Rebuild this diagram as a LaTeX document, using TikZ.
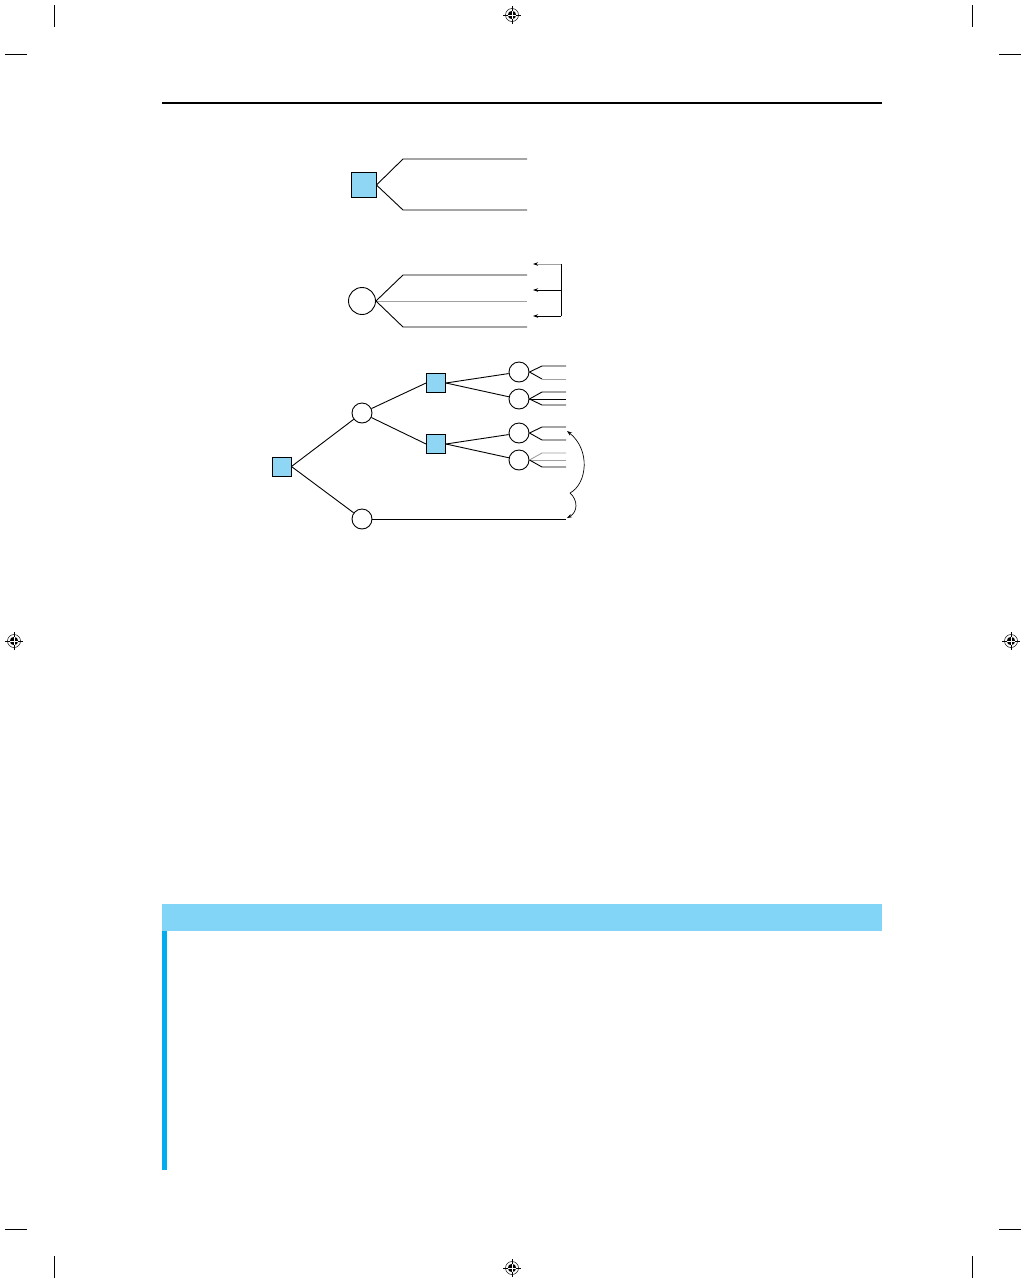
\documentclass[tikz,border=0pt]{standalone}
\usetikzlibrary{arrows.meta}
\definecolor{sqblue}{RGB}{143,214,245}
\definecolor{bandblue}{RGB}{130,213,246}
\definecolor{barblue}{RGB}{0,174,239}
\definecolor{lgray}{RGB}{160,160,160}
\tikzset{
  dsq/.style={draw, line width=0.9pt, fill=sqblue, rectangle, inner sep=0pt, minimum size=#1},
  dsq/.default=19pt,
  chc/.style={draw, line width=0.9pt, circle, inner sep=0pt, minimum size=#1},
  chc/.default=20pt,
  br/.style={line width=0.9pt},
  brg/.style={line width=0.9pt, draw=lgray},
  tip/.style={-{Stealth[length=5pt,width=3.5pt,color=black]}},
  crop/.style={line width=0.9pt},
  regmark/.pic={
    \draw[line width=0.5pt] (0,0) circle (6.5);
    \draw[line width=0.5pt] (-9,0) -- (9,0) (0,-9) -- (0,9);
    \fill (0,0) circle (4.2);
    \draw[white, line width=0.7pt] (-4.2,0) -- (4.2,0) (0,-4.2) -- (0,4.2);
  }
}
\begin{document}
\begin{tikzpicture}[x=1pt,y=-1pt]
\fill[white] (0,0) rectangle (1026,1283);
\useasboundingbox (0,0) rectangle (1026,1283);

% crop marks
\draw[crop] (54,5) -- (54,27);   \draw[crop] (5,54) -- (27,54);
\draw[crop] (972,5) -- (972,27); \draw[crop] (999,54) -- (1021,54);
\draw[crop] (54,1256) -- (54,1278);   \draw[crop] (5,1229) -- (27,1229);
\draw[crop] (972,1256) -- (972,1278); \draw[crop] (999,1229) -- (1021,1229);

% registration marks
\pic at (512,15) {regmark};
\pic at (14,641) {regmark};
\pic at (1011,641) {regmark};
\pic at (512,1268) {regmark};

% header rule
\draw[line width=1.2pt] (162,103) -- (882,103);

% band and bar
\fill[bandblue] (162,904) rectangle (882,931);
\fill[barblue] (162,931) rectangle (167,1170);

% ---- diagram 1: decision node
\node[dsq=25pt] (s1) at (363.5,185) {};
\coordinate (s1a) at (403,159); \coordinate (s1ae) at (527,159);
\coordinate (s1b) at (403,210); \coordinate (s1be) at (527,210);
\draw[br] (s1.east) -- (s1a) -- (s1ae);
\draw[br] (s1.east) -- (s1b) -- (s1be);

% ---- diagram 2: chance node
\node[chc=27pt] (c2) at (362,301) {};
\coordinate (c2a) at (403,275); \coordinate (c2ae) at (527,275);
\coordinate (c2me) at (527,301);
\coordinate (c2b) at (403,327); \coordinate (c2be) at (527,327);
\draw[br] (c2.east) -- (c2a) -- (c2ae);
\draw[brg] (c2.east) -- (c2me);
\draw[br] (c2.east) -- (c2b) -- (c2be);
\coordinate (k1) at (561,264); \coordinate (k2) at (561,290); \coordinate (k3) at (561,316);
\coordinate (t1) at (533,264); \coordinate (t2) at (533,290); \coordinate (t3) at (533,316);
\draw[br] (k1) -- (k3);
\draw[brg, tip] (k1) -- (t1);
\draw[br, tip] (k2) -- (t2);
\draw[br, tip] (k3) -- (t3);

% ---- diagram 3: tree
\node[dsq] (R) at (281.5,466.5) {};
\node[chc] (A) at (362,413) {};
\node[chc] (B) at (362,519) {};
\node[dsq] (C) at (436,383) {};
\node[dsq] (D) at (436,444) {};
\node[chc] (E) at (519,372) {};
\node[chc] (F) at (519,399) {};
\node[chc] (G) at (519,433) {};
\node[chc] (H) at (519,460) {};

\draw[br] (R.east) -- (A);
\draw[br] (R.east) -- (B);
\draw[br] (A) -- (C.west);
\draw[br] (A) -- (D.west);
\draw[br] (C.east) -- (E);
\draw[br] (C.east) -- (F);
\draw[br] (D.east) -- (G);
\draw[br] (D.east) -- (H);
\coordinate (Be) at (566,519);
\draw[br] (B.east) -- (Be);

% outcome branches
\coordinate (E1) at (542,366); \coordinate (E1e) at (566,366);
\coordinate (E2) at (542,379); \coordinate (E2e) at (566,379);
\draw[br] (E.east) -- (E1) -- (E1e);
\draw[br] (E.east) -- (E2);
\draw[brg] (E2) -- (E2e);

\coordinate (F1) at (542,392); \coordinate (F1e) at (566,392);
\coordinate (F2e) at (566,399);
\coordinate (F3) at (542,405); \coordinate (F3e) at (566,405);
\draw[br] (F.east) -- (F1) -- (F1e);
\draw[br] (F.east) -- (F2e);
\draw[br] (F.east) -- (F3) -- (F3e);

\coordinate (G1) at (542,427); \coordinate (G1e) at (566,427);
\coordinate (G2) at (542,440); \coordinate (G2e) at (566,440);
\draw[br] (G.east) -- (G1) -- (G1e);
\draw[br] (G.east) -- (G2) -- (G2e);

\coordinate (H1) at (542,453); \coordinate (H1e) at (566,453);
\coordinate (H2e) at (566,460);
\coordinate (H3) at (542,467); \coordinate (H3e) at (566,467);
\draw[brg] (H.east) -- (H1) -- (H1e);
\draw[brg] (H.east) -- (H2e);
\draw[br] (H.east) -- (H3) -- (H3e);

% brace-like curved arrows
\coordinate (cusp) at (570,493);
\coordinate (ua) at (567,431);
\coordinate (la) at (567,518);
\draw[line width=0.7pt, tip] (cusp) .. controls (587,484) and (591,450) .. (ua);
\draw[line width=0.7pt, tip] (cusp) .. controls (578,500) and (578,512) .. (la);
\end{tikzpicture}
\end{document}
